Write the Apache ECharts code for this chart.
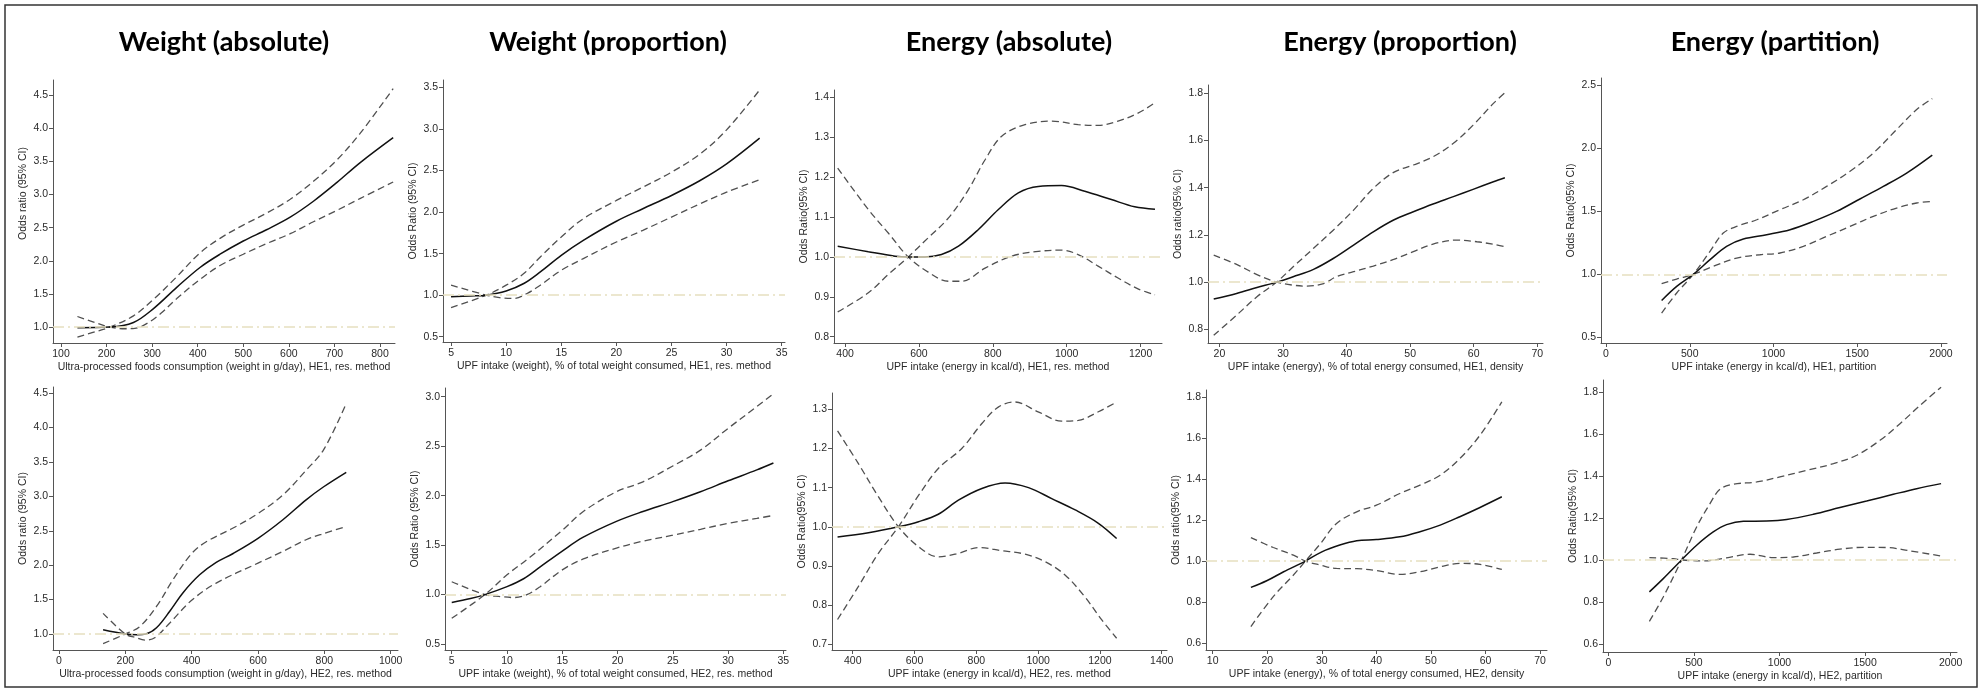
<!DOCTYPE html>
<html>
<head>
<meta charset="utf-8">
<script src="https://cdn.jsdelivr.net/npm/echarts@6/dist/echarts.min.js"></script>
<style>
  html, body { margin: 0; background: #fff; }
  #chart { width: 1981px; height: 690px; }
</style>
</head>
<body>
<div id="chart"></div>
<script>
// column headings
const colTitles = ['Weight (absolute)', 'Weight (proportion)', 'Energy (absolute)', 'Energy (proportion)', 'Energy (partition)']

// tick labels
const wAbs1Xt = [100, 200, 300, 400, 500, 600, 700, 800]
const wAbs2Xt = [0, 200, 400, 600, 800, 1000]
const wAbsYt = [1.0, 1.5, 2.0, 2.5, 3.0, 3.5, 4.0, 4.5]
const wPropXt = [5, 10, 15, 20, 25, 30, 35]
const wProp1Yt = [0.5, 1.0, 1.5, 2.0, 2.5, 3.0, 3.5]
const wProp2Yt = [0.5, 1.0, 1.5, 2.0, 2.5, 3.0]
const eAbs1Xt = [400, 600, 800, 1000, 1200]
const eAbs2Xt = [400, 600, 800, 1000, 1200, 1400]
const eAbs1Yt = [0.8, 0.9, 1.0, 1.1, 1.2, 1.3, 1.4]
const eAbs2Yt = [0.7, 0.8, 0.9, 1.0, 1.1, 1.2, 1.3]
const eProp1Xt = [20, 30, 40, 50, 60, 70]
const eProp2Xt = [10, 20, 30, 40, 50, 60, 70]
const eProp1Yt = [0.8, 1.0, 1.2, 1.4, 1.6, 1.8]
const eProp2Yt = [0.6, 0.8, 1.0, 1.2, 1.4, 1.6, 1.8]
const ePartXt = [0, 500, 1000, 1500, 2000]
const ePart1Yt = [0.5, 1.0, 1.5, 2.0, 2.5]
const ePart2Yt = [0.6, 0.8, 1.0, 1.2, 1.4, 1.6, 1.8]

// curves: [x, odds ratio]  (or = estimate, hi / lo = 95% CI bands)
const wAbs1Or = [[136, 0.99], [207, 1.0], [259, 1.07], [303, 1.28], [354, 1.6], [405, 1.9], [449, 2.1], [500, 2.3], [551, 2.47], [603, 2.66], [654, 2.9], [705, 3.18], [756, 3.48], [829, 3.86]]
const wAbs1Hi = [[136, 0.85], [170, 0.92], [207, 1.0], [259, 1.17], [303, 1.42], [354, 1.76], [405, 2.12], [449, 2.34], [500, 2.54], [551, 2.72], [603, 2.93], [654, 3.2], [705, 3.52], [756, 3.92], [829, 4.6]]
const wAbs1Lo = [[136, 1.16], [170, 1.08], [207, 1.0], [240, 0.975], [262, 0.98], [290, 1.06], [318, 1.2], [354, 1.43], [405, 1.72], [449, 1.93], [500, 2.1], [551, 2.26], [603, 2.41], [654, 2.59], [705, 2.76], [756, 2.94], [829, 3.19]]

const wAbs2Or = [[133, 1.06], [200, 1.0], [235, 0.99], [262, 1.0], [294, 1.09], [334, 1.33], [374, 1.6], [424, 1.86], [474, 2.04], [525, 2.17], [600, 2.39], [675, 2.66], [745, 2.95], [798, 3.14], [866, 3.35]]
const wAbs2Hi = [[133, 0.86], [200, 1.0], [244, 1.11], [294, 1.4], [344, 1.79], [400, 2.17], [444, 2.34], [525, 2.54], [600, 2.75], [675, 3.02], [745, 3.38], [798, 3.68], [866, 4.35]]
const wAbs2Lo = [[133, 1.3], [200, 1.0], [230, 0.95], [260, 0.91], [290, 0.95], [334, 1.16], [400, 1.49], [474, 1.74], [600, 2.03], [675, 2.2], [745, 2.37], [798, 2.46], [866, 2.56]]

const wProp1Or = [[5, 0.98], [6.7, 0.99], [8.2, 1.0], [10, 1.05], [11.6, 1.14], [13.1, 1.28], [15, 1.48], [17, 1.66], [20, 1.89], [22.4, 2.04], [25, 2.2], [27.6, 2.38], [30, 2.58], [33, 2.89]]
const wProp1Hi = [[5, 0.85], [8.2, 1.0], [10, 1.12], [11.6, 1.26], [13.1, 1.46], [15, 1.7], [17, 1.92], [20, 2.14], [22.4, 2.3], [25, 2.48], [27.6, 2.7], [30, 2.99], [33, 3.47]]
const wProp1Lo = [[5, 1.12], [8.2, 1.0], [9.4, 0.97], [10.7, 0.96], [11.9, 1.02], [13.1, 1.12], [15, 1.3], [17, 1.44], [20, 1.64], [22.4, 1.78], [25, 1.94], [27.6, 2.1], [30, 2.24], [33, 2.39]]

const wProp2Or = [[5, 0.92], [6.7, 0.96], [8, 1.0], [10, 1.08], [11.5, 1.16], [13, 1.28], [15, 1.44], [16.9, 1.58], [19.9, 1.74], [22.3, 1.84], [25, 1.94], [27.5, 2.04], [30, 2.15], [32.6, 2.26], [34.1, 2.33]]
const wProp2Hi = [[5, 0.76], [8, 1.0], [10, 1.2], [12.1, 1.38], [15, 1.65], [16.9, 1.84], [19.9, 2.04], [22.3, 2.14], [25, 2.3], [27.5, 2.46], [30, 2.68], [32.6, 2.9], [34.1, 3.03]]
const wProp2Lo = [[5, 1.13], [8, 1.0], [9.4, 0.98], [10.6, 0.97], [11.8, 1.0], [13, 1.08], [15, 1.25], [16.9, 1.36], [19.9, 1.47], [22.3, 1.54], [25, 1.6], [27.5, 1.66], [30, 1.72], [32.6, 1.77], [34.1, 1.8]]

const eAbs1Or = [[380, 1.027], [463, 1.013], [535, 1.002], [571, 1.0], [616, 1.0], [661, 1.006], [707, 1.027], [761, 1.069], [815, 1.119], [869, 1.161], [923, 1.177], [986, 1.179], [1049, 1.165], [1121, 1.144], [1184, 1.126], [1239, 1.12]]
const eAbs1Hi = [[380, 0.862], [463, 0.91], [517, 0.956], [571, 1.0], [625, 1.048], [680, 1.098], [734, 1.169], [779, 1.244], [824, 1.303], [887, 1.332], [959, 1.341], [1031, 1.332], [1085, 1.33], [1139, 1.341], [1193, 1.361], [1239, 1.387]]
const eAbs1Lo = [[380, 1.223], [463, 1.119], [517, 1.06], [571, 1.0], [625, 0.962], [680, 0.939], [716, 0.939], [779, 0.972], [851, 1.002], [923, 1.014], [986, 1.017], [1031, 1.006], [1085, 0.977], [1139, 0.947], [1193, 0.92], [1239, 0.905]]

const eAbs2Or = [[351, 0.974], [451, 0.985], [548, 1.0], [613, 1.013], [677, 1.032], [742, 1.068], [818, 1.098], [893, 1.112], [969, 1.1], [1044, 1.072], [1120, 1.043], [1195, 1.009], [1254, 0.97]]
const eAbs2Hi = [[351, 0.763], [418, 0.847], [483, 0.932], [548, 1.0], [613, 1.08], [677, 1.149], [753, 1.2], [818, 1.264], [871, 1.306], [925, 1.319], [1000, 1.294], [1076, 1.27], [1130, 1.272], [1195, 1.294], [1254, 1.319]]
const eAbs2Lo = [[351, 1.245], [418, 1.162], [483, 1.077], [548, 1.0], [613, 0.949], [677, 0.923], [742, 0.932], [807, 0.947], [882, 0.939], [958, 0.93], [1022, 0.911], [1087, 0.877], [1151, 0.821], [1206, 0.762], [1254, 0.715]]

const eProp1Or = [[19.1, 0.928], [22.7, 0.952], [25.9, 0.977], [29, 1.0], [31.6, 1.023], [34.8, 1.054], [37.9, 1.1], [41.1, 1.157], [44.2, 1.213], [47.4, 1.263], [50.5, 1.298], [53.6, 1.331], [56.8, 1.362], [59.9, 1.393], [63.1, 1.425], [64.9, 1.442]]
const eProp1Hi = [[19.1, 0.775], [22.7, 0.86], [25.9, 0.938], [29, 1.0], [31.6, 1.065], [34.8, 1.143], [37.9, 1.22], [41.1, 1.305], [44.2, 1.397], [47.4, 1.465], [50.5, 1.496], [53.6, 1.531], [56.8, 1.588], [59.9, 1.665], [63.1, 1.757], [64.9, 1.802]]
const eProp1Lo = [[19.1, 1.114], [22.7, 1.075], [25.9, 1.032], [29, 1.0], [31.6, 0.987], [33.7, 0.983], [36.4, 0.994], [38.4, 1.023], [41.1, 1.044], [44.2, 1.068], [47.4, 1.096], [50.5, 1.129], [53.6, 1.161], [57.3, 1.178], [60.5, 1.171], [63.1, 1.16], [64.9, 1.15]]

const eProp2Or = [[17, 0.872], [19.9, 0.904], [23, 0.948], [27, 1.0], [30, 1.045], [33.3, 1.078], [36.4, 1.099], [40, 1.105], [44.3, 1.118], [48, 1.143], [51.7, 1.175], [55.3, 1.216], [59, 1.261], [63, 1.313]]
const eProp2Hi = [[17, 0.681], [21.1, 0.827], [24.8, 0.932], [27, 1.0], [29.7, 1.083], [32.7, 1.183], [36.4, 1.24], [40, 1.272], [44.3, 1.329], [48, 1.37], [51.7, 1.418], [55.3, 1.499], [59, 1.613], [63, 1.775]]
const eProp2Lo = [[17, 1.114], [21.1, 1.066], [24.8, 1.029], [27, 1.0], [29.7, 0.981], [32.7, 0.964], [36.4, 0.963], [40, 0.954], [44.3, 0.935], [48, 0.948], [51.7, 0.972], [55.3, 0.989], [59, 0.984], [63, 0.959]]

const ePart1Or = [[332, 0.793], [422, 0.905], [521, 1.0], [621, 1.117], [720, 1.223], [820, 1.281], [959, 1.315], [1099, 1.355], [1238, 1.421], [1377, 1.5], [1516, 1.599], [1656, 1.699], [1795, 1.805], [1948, 1.948]]
const ePart1Hi = [[332, 0.693], [422, 0.852], [521, 1.0], [621, 1.183], [700, 1.328], [780, 1.381], [900, 1.434], [1039, 1.514], [1178, 1.593], [1317, 1.699], [1457, 1.819], [1596, 1.964], [1735, 2.15], [1855, 2.309], [1948, 2.396]]
const ePart1Lo = [[332, 0.926], [422, 0.963], [521, 1.0], [641, 1.064], [780, 1.13], [919, 1.156], [1039, 1.17], [1178, 1.223], [1317, 1.302], [1457, 1.381], [1596, 1.461], [1735, 1.527], [1855, 1.567], [1948, 1.58]]

const ePart2Or = [[240, 0.848], [321, 0.911], [428, 1.0], [516, 1.07], [613, 1.133], [691, 1.168], [789, 1.184], [925, 1.185], [1042, 1.192], [1198, 1.217], [1353, 1.249], [1509, 1.28], [1665, 1.312], [1801, 1.339], [1944, 1.363]]
const ePart2Hi = [[240, 0.708], [321, 0.824], [428, 1.0], [516, 1.157], [594, 1.268], [652, 1.336], [730, 1.36], [867, 1.371], [1003, 1.395], [1159, 1.426], [1315, 1.458], [1451, 1.498], [1587, 1.569], [1704, 1.648], [1821, 1.735], [1944, 1.822]]
const ePart2Lo = [[240, 1.011], [380, 1.006], [428, 1.0], [555, 0.995], [691, 1.01], [828, 1.027], [964, 1.011], [1081, 1.014], [1217, 1.033], [1353, 1.051], [1490, 1.06], [1626, 1.059], [1762, 1.043], [1944, 1.019]]

// panel layout: grid [left, top, width, height], axis extents
const panels = [
  { g: [53, 80, 342, 263], x: [82.4, 833], y: [0.76, 4.73], xt: wAbs1Xt, yt: wAbsYt,
    xn: 'Ultra-processed foods consumption (weight in g/day), HE1, res. method', yn: 'Odds ratio (95% CI)',
    or: wAbs1Or, hi: wAbs1Hi, lo: wAbs1Lo, yPad: 36 },
  { g: [443, 80, 342, 262], x: [4.27, 35.3], y: [0.436, 3.59], xt: wPropXt, yt: wProp1Yt,
    xn: 'UPF intake (weight), % of total weight consumed, HE1, res. method', yn: 'Odds Ratio (95% CI)',
    or: wProp1Or, hi: wProp1Hi, lo: wProp1Lo },
  { g: [834, 90, 328, 253], x: [370, 1258], y: [0.784, 1.419], xt: eAbs1Xt, yt: eAbs1Yt,
    xn: 'UPF intake (energy in kcal/d), HE1, res. method', yn: 'Odds Ratio(95% CI)',
    or: eAbs1Or, hi: eAbs1Hi, lo: eAbs1Lo },
  { g: [1208, 85, 335, 258], x: [18.2, 70.9], y: [0.742, 1.835], xt: eProp1Xt, yt: eProp1Yt,
    xn: 'UPF intake (energy), % of total energy consumed, HE1, density', yn: 'Odds ratio(95% CI)',
    or: eProp1Or, hi: eProp1Hi, lo: eProp1Lo },
  { g: [1601, 78, 346, 265], x: [-30, 2036], y: [0.455, 2.56], xt: ePartXt, yt: ePart1Yt,
    xn: 'UPF intake (energy in kcal/d), HE1, partition', yn: 'Odds Ratio(95% CI)',
    or: ePart1Or, hi: ePart1Hi, lo: ePart1Lo },
  { g: [53, 387, 345, 263], x: [-18, 1022], y: [0.767, 4.59], xt: wAbs2Xt, yt: wAbsYt,
    xn: 'Ultra-processed foods consumption (weight in g/day), HE2, res. method', yn: 'Odds ratio (95% CI)',
    or: wAbs2Or, hi: wAbs2Hi, lo: wAbs2Lo },
  { g: [445, 388, 341, 262], x: [4.39, 35.24], y: [0.44, 3.088], xt: wPropXt, yt: wProp2Yt,
    xn: 'UPF intake (weight), % of total weight consumed, HE2, res. method', yn: 'Odds Ratio (95% CI)',
    or: wProp2Or, hi: wProp2Hi, lo: wProp2Lo },
  { g: [832, 393, 335, 257], x: [333, 1417], y: [0.685, 1.342], xt: eAbs2Xt, yt: eAbs2Yt,
    xn: 'UPF intake (energy in kcal/d), HE2, res. method', yn: 'Odds Ratio(95% CI)',
    or: eAbs2Or, hi: eAbs2Hi, lo: eAbs2Lo },
  { g: [1206, 390, 341, 260], x: [8.77, 71.28], y: [0.567, 1.833], xt: eProp2Xt, yt: eProp2Yt,
    xn: 'UPF intake (energy), % of total energy consumed, HE2, density', yn: 'Odds ratio(95% CI)',
    or: eProp2Or, hi: eProp2Hi, lo: eProp2Lo },
  { g: [1603, 380, 354, 272], x: [-31, 2037], y: [0.562, 1.856], xt: ePartXt, yt: ePart2Yt,
    xn: 'UPF intake (energy in kcal/d), HE2, partition', yn: 'Odds Ratio(95% CI)',
    or: ePart2Or, hi: ePart2Hi, lo: ePart2Lo }
]

const titleX = [224, 608, 1009, 1400, 1775]
const font = 'Liberation Sans'
const axisColor = '#555'
const txtColor = '#2a2a2a'

const chart = echarts.init(document.getElementById('chart'), null, { renderer: 'canvas' })

const grid = [], xAxis = [], yAxis = [], series = []
panels.forEach((p, i) => {
  grid.push({ left: p.g[0], top: p.g[1], width: p.g[2], height: p.g[3], containLabel: false })
  xAxis.push({
    type: 'value', gridIndex: i, min: p.x[0], max: p.x[1],
    name: p.xn, nameLocation: 'middle', nameGap: 19,
    nameTextStyle: { fontFamily: font, fontSize: 10.5, color: txtColor },
    axisLine: { show: true, onZero: false, lineStyle: { color: axisColor, width: 1 } },
    axisTick: { show: true, length: 4, customValues: p.xt, lineStyle: { color: axisColor } },
    axisLabel: { customValues: p.xt, fontFamily: font, fontSize: 10.5, color: txtColor, margin: 6,
      formatter: v => String(v) },
    splitLine: { show: false }
  })
  yAxis.push({
    type: 'value', gridIndex: i, min: p.y[0], max: p.y[1],
    name: p.yn, nameLocation: 'middle', nameGap: 24, nameRotate: 90,
    nameTextStyle: { fontFamily: font, fontSize: 10.5, color: txtColor, padding: [0, 0, 0, p.yPad || 0] },
    axisLine: { show: true, onZero: false, lineStyle: { color: axisColor, width: 1 } },
    axisTick: { show: true, length: 4, customValues: p.yt, lineStyle: { color: axisColor } },
    axisLabel: { customValues: p.yt, fontFamily: font, fontSize: 10.5, color: txtColor, margin: 5,
      formatter: v => v.toFixed(1) },
    splitLine: { show: false }
  })
  const line = (data, style, z) => ({
    type: 'line', xAxisIndex: i, yAxisIndex: i, data, showSymbol: false,
    smooth: 0.35, lineStyle: style, z
  })
  const mid = line(p.or, { color: '#111', width: 1.5 }, 3)
  mid.markLine = {
    silent: true, symbol: ['none', 'none'], label: { show: false },
    lineStyle: { color: '#e6e0c0', type: [11, 4, 2, 4], width: 1.5 },
    data: [{ yAxis: 1 }]
  }
  series.push(mid)
  series.push(line(p.hi, { color: '#505050', width: 1.3, type: [7, 4] }, 2))
  series.push(line(p.lo, { color: '#505050', width: 1.3, type: [7, 4] }, 2))
})

const graphic = colTitles.map((t, i) => ({
  type: 'text', x: titleX[i], y: 42,
  style: { text: t, fontFamily: 'Lato', fontWeight: 'bold', fontSize: 27, fill: '#000',
    align: 'center', verticalAlign: 'middle' }
}))
graphic.push({
  type: 'rect', shape: { x: 5, y: 5, width: 1972, height: 682 },
  style: { fill: 'none', stroke: '#333', lineWidth: 1.5 }
})

chart.setOption({
  animation: false,
  backgroundColor: '#fff',
  grid, xAxis, yAxis, series, graphic
})
</script>
</body>
</html>
